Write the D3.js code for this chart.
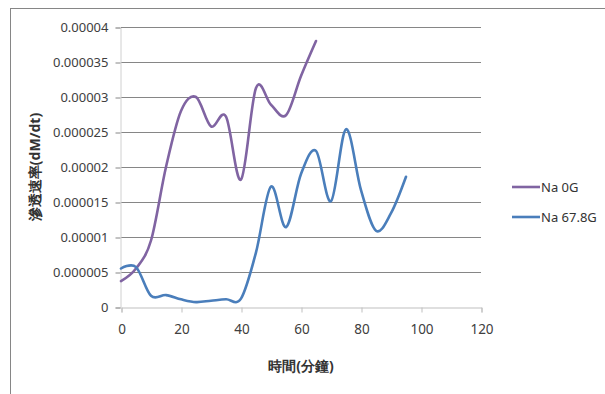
<!DOCTYPE html>
<html><head><meta charset="utf-8">
<script src="https://cdn.jsdelivr.net/npm/d3@7"></script>
<style>body{margin:0;background:#fff}svg{display:block}text{font-family:"Noto Sans","Liberation Sans",sans-serif}</style>
</head><body>
<script>
const times0 = [0,5,10,15,20,25,30,35,40,45,50,55,60,65];
const na0G = [0.0000037,0.0000055,0.0000095,0.00002,0.000028,0.00003,0.0000258,0.0000272,0.0000182,0.0000313,0.0000289,0.0000274,0.000033,0.000038];
const times1 = [0,5,10,15,20,25,30,35,40,45,50,55,60,65,70,75,80,85,90,95];
const na678G = [0.0000055,0.0000057,0.0000016,0.0000017,0.0000011,0.0000007,0.0000009,0.0000011,0.0000012,0.0000078,0.0000172,0.0000114,0.000019,0.0000223,0.0000151,0.0000254,0.0000167,0.0000109,0.0000134,0.0000186];
const seriesNames = ["Na 0G","Na 67.8G"];
const xTicks = [0,20,40,60,80,100,120];
const yTicks = [0,0.000005,0.00001,0.000015,0.00002,0.000025,0.00003,0.000035,0.00004];
const yTickLabels = ["0","0.000005","0.00001","0.000015","0.00002","0.000025","0.00003","0.000035","0.00004"];
const xTitle = "時間(分鐘)";
const yTitle = "滲透速率(dM/dt)";
const colors = ["#8064A2","#4A7EBB"];

const W=605,H=394;
const svg=d3.select("body").append("svg").attr("width",W).attr("height",H);
svg.append("rect").attr("x",10.5).attr("y",8.5).attr("width",W).attr("height",H).attr("fill","none").attr("stroke","#868686").attr("stroke-width",1);

const x=d3.scaleLinear().domain([0,120]).range([121,481]);
const y=d3.scaleLinear().domain([0,0.00004]).range([307,27]);

// gridlines
svg.append("g").selectAll("line").data(yTicks.slice(1)).join("line")
  .attr("x1",x(0)).attr("x2",x(120)).attr("y1",d=>Math.round(y(d))+0.5).attr("y2",d=>Math.round(y(d))+0.5)
  .attr("stroke","#868686").attr("stroke-width",1);

// y axis
const ya=svg.append("g").attr("transform",`translate(${x(0)-0.5},0.5)`)
  .call(d3.axisLeft(y).tickValues(yTicks).tickFormat((d,i)=>yTickLabels[i]).tickSize(5).tickPadding(7));
ya.select(".domain").attr("stroke","#d0d0d0");
ya.selectAll(".tick line").attr("stroke","#868686");
ya.selectAll("text").attr("font-size",13).attr("fill","#404040");

// x axis
const xa=svg.append("g").attr("transform",`translate(0.5,${y(0)+0.5})`)
  .call(d3.axisBottom(x).tickValues(xTicks).tickSize(5).tickPadding(12));
xa.select(".domain").attr("stroke","#bfbfbf");
xa.selectAll(".tick line").attr("stroke","#bfbfbf");
xa.selectAll("text").attr("font-size",13.5).attr("fill","#404040");

const line=d3.line().x(d=>x(d[0])).y(d=>y(d[1])).curve(d3.curveCardinal.tension(0));
const data=[times0.map((t,i)=>[t,na0G[i]]),times1.map((t,i)=>[t,na678G[i]])];
svg.append("g").selectAll("path").data(data).join("path")
  .attr("d",line).attr("fill","none").attr("stroke",(d,i)=>colors[i]).attr("stroke-width",2.6).attr("stroke-linejoin","round").attr("stroke-linecap","round");

// titles
svg.append("text").attr("x",301).attr("y",371).attr("text-anchor","middle").attr("font-size",14).attr("font-weight","bold").attr("fill","#333").text(xTitle);
svg.append("text").attr("transform","translate(40,167) rotate(-90)").attr("text-anchor","middle").attr("font-size",14).attr("font-weight","bold").attr("fill","#333").text(yTitle);

// legend
const lg=svg.append("g").selectAll("g").data(seriesNames).join("g").attr("transform",(d,i)=>`translate(512,${187+i*30})`);
lg.append("line").attr("x1",0).attr("x2",28).attr("stroke",(d,i)=>colors[i]).attr("stroke-width",2.6);
lg.append("text").attr("x",29).attr("dy","0.35em").attr("font-size",13).attr("fill","#333").text(d=>d);
</script>
</body></html>
